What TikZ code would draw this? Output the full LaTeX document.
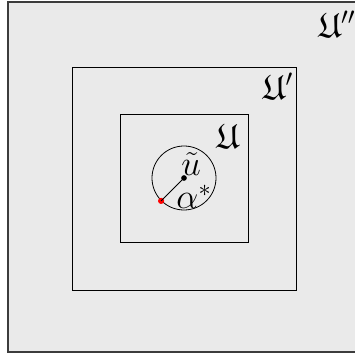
\documentclass[tikz,border=0pt]{standalone}
\usepackage{amssymb}
\newcommand{\biglbl}[1]{\scalebox{1.5}{#1}}
\begin{document}
\begin{tikzpicture}[x=0.03125cm,y=-0.03125cm,
  box/.style={draw=black,line width=0.7pt},
  lbl/.style={inner sep=0pt,font=\huge},
  dotb/.style={circle,fill=black,inner sep=0pt,minimum size=5pt}]
\useasboundingbox (0,0) rectangle (355,354);
\fill[white] (0,0) rectangle (355,354);
\path[fill={rgb,255:red,234;green,234;blue,234},draw={rgb,255:red,60;green,60;blue,60},line width=0.9pt] (8,2) rectangle (362,352);
\draw[box] (72,67) rectangle (296,290);
\draw[box] (120,114) rectangle (248,242);
\node[draw,circle,minimum size=64*0.03125cm,inner sep=0pt,line width=0.7pt] (c) at (184,178) {};
\node[dotb] (u) at (184,178) {};
\node[circle,fill=red,inner sep=0pt,minimum size=5.5pt] (a) at (c.225) {};
\draw[line width=0.7pt] (u.center) -- (a.center);
\node[lbl] (lu) at (191,164) {\biglbl{$\tilde u$}};
\node[lbl] (la) at (194,197) {\biglbl{$\alpha^*$}};
\node[lbl] (l1) at (228,136) {\biglbl{$\mathfrak{U}$}};
\node[lbl] (l2) at (278,86) {\biglbl{$\mathfrak{U}'$}};
\node[lbl] (l3) at (337,24) {\biglbl{$\mathfrak{U}''$}};
\end{tikzpicture}
\end{document}
